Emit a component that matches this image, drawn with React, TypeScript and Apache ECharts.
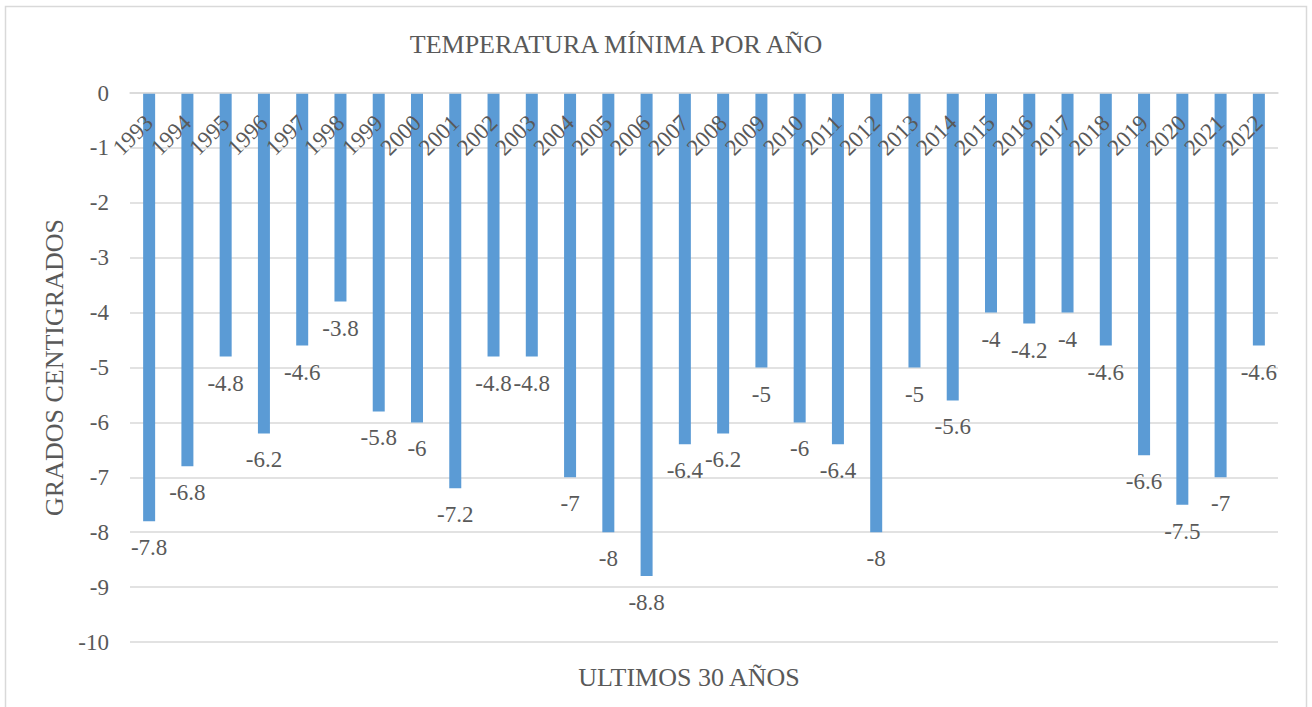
import React, { useEffect, useRef } from "react";
import * as echarts from "echarts";

const years = ["1993","1994","1995","1996","1997","1998","1999","2000","2001","2002","2003","2004","2005","2006","2007","2008","2009","2010","2011","2012","2013","2014","2015","2016","2017","2018","2019","2020","2021","2022"];
const minTemps = [-7.8,-6.8,-4.8,-6.2,-4.6,-3.8,-5.8,-6,-7.2,-4.8,-4.8,-7,-8,-8.8,-6.4,-6.2,-5,-6,-6.4,-8,-5,-5.6,-4,-4.2,-4,-4.6,-6.6,-7.5,-7,-4.6];
const titleText = "TEMPERATURA MÍNIMA POR AÑO";
const xName = "ULTIMOS 30 AÑOS";
const yName = "GRADOS CENTIGRADOS";

const FONT = "'Liberation Serif', 'Times New Roman', serif";
const TXT = "#595959";
const GRID = "#d9d9d9";

export default function App() {
  const ref = useRef<HTMLDivElement>(null);
  useEffect(() => {
    if (!ref.current) return;
    const chart = echarts.init(ref.current, undefined, { renderer: "svg" });
    chart.setOption({
      animation: false,
      backgroundColor: "#ffffff",
      textStyle: { fontFamily: FONT },
      graphic: [
        {
          type: "rect",
          shape: { x: 5.5, y: 6.5, width: 1301, height: 720 },
          style: { fill: "none", stroke: GRID, lineWidth: 1.5 },
          silent: true,
          z: -1,
        },
        {
          type: "text",
          x: 616,
          y: 44,
          style: {
            text: titleText,
            fill: TXT,
            font: `26px ${FONT}`,
            align: "center",
            verticalAlign: "middle",
          },
        },
        {
          type: "text",
          x: 689,
          y: 677,
          style: {
            text: xName,
            fill: TXT,
            font: `26px ${FONT}`,
            align: "center",
            verticalAlign: "middle",
          },
        },
      ],
      grid: { left: 130, right: 34, top: 93, bottom: 65 },
      xAxis: {
        type: "category",
        position: "top",
        data: years,
        axisLine: { onZero: false, lineStyle: { color: GRID, width: 1.5 } },
        axisTick: { show: false },
        axisLabel: {
          inside: true,
          rotate: -45,
          fontSize: 23,
          color: TXT,
          fontFamily: FONT,
          margin: 26,
          interval: 0,
        },
        z: 5,
      },
      yAxis: {
        type: "value",
        min: -10,
        max: 0,
        interval: 1,
        name: yName,
        nameLocation: "middle",
        nameGap: 63,
        nameTextStyle: { fontSize: 26, color: TXT, fontFamily: FONT },
        axisLine: { show: false },
        axisTick: { show: false },
        axisLabel: { fontSize: 23, color: TXT, fontFamily: FONT, margin: 21 },
        splitLine: { lineStyle: { color: GRID, width: 1.5 } },
      },
      series: [
        {
          type: "bar",
          data: minTemps,
          barWidth: 12,
          itemStyle: { color: "#5b9bd5" },
          label: {
            show: true,
            position: "bottom",
            distance: 15,
            fontSize: 23,
            color: TXT,
            fontFamily: FONT,
          },
        },
      ],
    });
    return () => chart.dispose();
  }, []);
  return (
    <div
      ref={ref}
      style={{ position: "absolute", left: 0, top: 0, width: 1312, height: 707 }}
    />
  );
}
